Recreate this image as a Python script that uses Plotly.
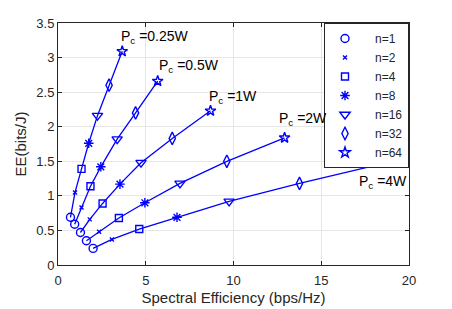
import plotly.graph_objects as go

# Data: spectral efficiency (x) and energy efficiency (y) for each circuit power Pc,
# with points ordered by n = 1, 2, 4, 8, 16, 32, 64
n_values = [1, 2, 4, 8, 16, 32, 64]
pc_labels = ["0.25W", "0.5W", "1W", "2W", "4W"]

se_pc025 = [0.71, 0.97, 1.34, 1.75, 2.25, 2.91, 3.66]
ee_pc025 = [0.69, 1.05, 1.39, 1.76, 2.16, 2.60, 3.09]
se_pc05 = [0.95, 1.34, 1.85, 2.44, 3.37, 4.42, 5.68]
ee_pc05 = [0.59, 0.83, 1.14, 1.42, 1.82, 2.20, 2.66]
se_pc1 = [1.28, 1.81, 2.54, 3.53, 4.73, 6.51, 8.69]
ee_pc1 = [0.47, 0.66, 0.89, 1.17, 1.48, 1.83, 2.23]
se_pc2 = [1.62, 2.34, 3.47, 4.95, 6.95, 9.62, 12.91]
ee_pc2 = [0.35, 0.48, 0.68, 0.90, 1.18, 1.50, 1.84]
se_pc4 = [2.00, 3.07, 4.63, 6.78, 9.75, 13.76, 19.05]
ee_pc4 = [0.24, 0.37, 0.52, 0.69, 0.92, 1.18, 1.50]

x_ticks = [0, 5, 10, 15, 20]
y_ticks = [0, 0.5, 1, 1.5, 2, 2.5, 3, 3.5]

se_all = [se_pc025, se_pc05, se_pc1, se_pc2, se_pc4]
ee_all = [ee_pc025, ee_pc05, ee_pc1, ee_pc2, ee_pc4]

# Styles / label placement
BLUE = "rgb(0,0,255)"
DARK = "#262626"
FONT = "Liberation Sans, Arial, sans-serif"
NB = "\u00a0"
symbols = ["circle-open", "x-thin-open", "square-open", "asterisk-open",
           "triangle-down-open", "diamond-tall-open", "star-open"]
sizes = [8, 4, 7, 8, 9, 9, 8]
label_pos = [(3.49, 3.21), (5.62, 2.79), (8.48, 2.35), (12.48, 2.03), (17.05, 1.11)]

fig = go.Figure()

for se, ee in zip(se_all, ee_all):
    fig.add_trace(go.Scatter(x=se, y=ee, mode="lines",
                             line=dict(color=BLUE, width=1.3),
                             showlegend=False, hoverinfo="skip"))

for i, n in enumerate(n_values):
    fig.add_trace(go.Scatter(
        x=[se[i] for se in se_all], y=[ee[i] for ee in ee_all],
        mode="markers", name=f"{NB}{NB}{NB}n={n}",
        marker=dict(symbol=symbols[i], size=sizes[i], color=BLUE,
                    line=dict(color=BLUE, width=1.4))))

annotations = []
for lab, (ax, ay) in zip(pc_labels, label_pos):
    annotations.append(dict(
        x=ax, y=ay, xref="x", yref="y", xanchor="left", yanchor="bottom",
        text=f"P<sub>c</sub> ={lab}", showarrow=False, yshift=-5,
        font=dict(family=FONT, size=14, color="#000000")))

axis_common = dict(showline=True, linecolor=DARK, linewidth=1, mirror="ticks",
                   ticks="inside", ticklen=4, tickcolor=DARK, automargin=False,
                   showgrid=True, gridcolor="#e6e6e6", gridwidth=1,
                   zeroline=False, tickfont=dict(family=FONT, size=13, color=DARK))

# The page body adds an 8px offset, so the figure is 8px smaller and margins shifted.
fig.update_layout(
    width=444, height=301,
    margin=dict(l=50, r=43, t=15, b=44),
    paper_bgcolor="white", plot_bgcolor="white",
    font=dict(family=FONT, color=DARK),
    xaxis=dict(range=[0, 20], tickvals=x_ticks, ticklabelstandoff=3,
               title=dict(text="Spectral Efficiency (bps/Hz)",
                          font=dict(family=FONT, size=15, color=DARK), standoff=5),
               **axis_common),
    yaxis=dict(range=[0, 3.5], tickvals=y_ticks,
               title=dict(text="EE(bits/J)",
                          font=dict(family=FONT, size=15, color=DARK), standoff=6),
               **axis_common),
    legend=dict(x=1, y=1, xanchor="right", yanchor="top",
                bgcolor="white", bordercolor=DARK, borderwidth=1,
                font=dict(family=FONT, size=12, color=DARK),
                tracegroupgap=0),
    annotations=annotations,
)

fig.write_html("out.html")
